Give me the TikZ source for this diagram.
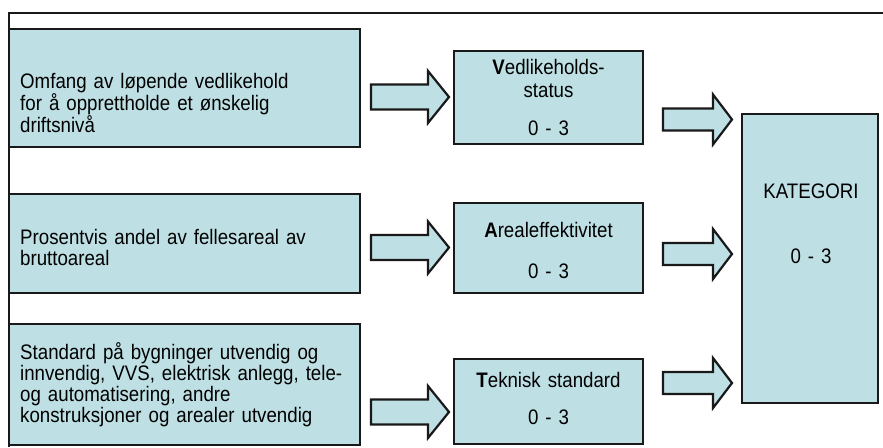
\documentclass[tikz,border=0pt]{standalone}
\usepackage{fontspec}
\setmainfont{Liberation Sans}[FakeStretch=0.89]
\usetikzlibrary{calc}
\definecolor{boxfill}{RGB}{190,224,228}
\definecolor{edgecol}{RGB}{25,25,25}
% #1 start, #2 tip, #3 shaft half width, #4 head half width, #5 head length
\newcommand\blockarrow[5]{%
  \draw[barrow] let \p1=(#1), \p2=(#2) in
    (\x1,\y1+#3) -- (\x2-#5,\y1+#3) -- (\x2-#5,\y1+#4) -- (\x2,\y1)
    -- (\x2-#5,\y1-#4) -- (\x2-#5,\y1-#3) -- (\x1,\y1-#3) -- cycle;}
\begin{document}
\begin{tikzpicture}[x=1pt,y=-1pt,
  box/.style={draw=edgecol, line width=2.2pt, fill=boxfill, inner sep=0pt},
  leftbox/.style={box, minimum width=351pt},
  midbox/.style={box, minimum width=189pt},
  katbox/.style={box, minimum width=136pt, minimum height=289pt},
  lefttext/.style={inner sep=0pt, anchor=base west, text width=330pt, align=left,
    font=\fontsize{21}{#1}\selectfont},
  midtext/.style={inner sep=0pt, anchor=base, text width=180pt, align=center,
    font=\fontsize{21}{21}\selectfont},
  barrow/.style={draw=edgecol, line width=2.2pt, fill=boxfill, line join=miter},
  frame/.style={draw=edgecol, line width=2pt}]
\useasboundingbox (0,0) rectangle (883,447);

% outer frame (open at right and bottom)
\draw[frame] (9,447) -- (9,13) -- (883,13);

% left description boxes
\node[leftbox, minimum height=118pt] (d1) at (184.5,88) {};
\node[leftbox, minimum height=99pt]  (d2) at (184.5,243.5) {};
\node[leftbox, minimum height=121pt] (d3) at (184.5,384.5) {};
\node[lefttext=19.5pt] (d1t) at (20,88)
  {Omfang av løpende vedlikehold\\for å opprettholde et ønskelig\\driftsnivå};
\node[lefttext=21pt] (d2t) at (20,244)
  {Prosentvis andel av fellesareal av\\bruttoareal};
\node[lefttext=21.3pt] (d3t) at (20,359)
  {Standard på bygninger utvendig og\\innvendig, VVS, elektrisk anlegg, tele-\\og automatisering, andre\\konstruksjoner og arealer utvendig};

% middle boxes
\node[midbox, minimum height=93pt] (v) at (548.5,97.5) {};
\node[midbox, minimum height=90pt] (a) at (548.5,248) {};
\node[midbox, minimum height=85pt] (t) at (548.5,401.5) {};
\node[midtext] (vt) at (548.5,74)
  {\textbf{V}edlikeholds-\\[2pt]status\\[17pt]0 - 3};
\node[midtext] (at) at (548.5,237)
  {\textbf{A}realeffektivitet\\[20pt]0 - 3};
\node[midtext] (tt) at (548.5,387)
  {\textbf{T}eknisk standard\\[16pt]0 - 3};

% category box
\node[katbox] (k) at (810,258.5) {};
\node[midtext, text width=130pt] (kt) at (811,198)
  {KATEGORI\\[44pt]0 - 3};

% block arrows
\coordinate (l1s) at (371,97);    \coordinate (l1e) at (449,97);
\coordinate (l2s) at (371,247.5); \coordinate (l2e) at (449,247.5);
\coordinate (l3s) at (371,412);   \coordinate (l3e) at (449,412);
\coordinate (r1s) at (663,119.5); \coordinate (r1e) at (732,119.5);
\coordinate (r2s) at (663,254);   \coordinate (r2e) at (732,254);
\coordinate (r3s) at (663,383);   \coordinate (r3e) at (732,383);
\blockarrow{l1s}{l1e}{12.5pt}{26pt}{21pt}
\blockarrow{l2s}{l2e}{12.5pt}{26pt}{21pt}
\blockarrow{l3s}{l3e}{12.5pt}{26pt}{21pt}
\blockarrow{r1s}{r1e}{11pt}{25pt}{19pt}
\blockarrow{r2s}{r2e}{11pt}{25pt}{19pt}
\blockarrow{r3s}{r3e}{11pt}{25pt}{19pt}
\end{tikzpicture}
\end{document}
